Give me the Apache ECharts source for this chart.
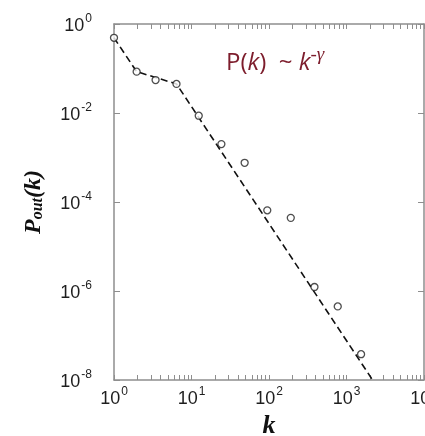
<!DOCTYPE html>
<html>
<head>
<meta charset="utf-8">
<style>
  html, body { margin: 0; padding: 0; background: #fff; }
  #chart { width: 425px; height: 436px; }
</style>
<script src="https://cdn.jsdelivr.net/npm/echarts@6/dist/echarts.min.js"></script>
</head>
<body>
<div id="chart"></div>
<script>
// Out-degree distribution samples (k, P_out(k))
const kValues = [1, 1.96, 3.44, 6.4, 12.4, 24.3, 48.5, 95, 191, 386, 771, 1542];
const pValues = [0.49, 0.085, 0.055, 0.045, 0.0087, 0.002, 0.00076, 0.000065, 0.000044, 0.00000123, 0.00000045, 0.000000038];

// Piecewise power-law guide line
const fitK = [1, 1.96, 6.4, 2170];
const fitP = [0.49, 0.085, 0.045, 0.00000001];

// Axis ticks and labels
const xLabelValues = [1, 10, 100, 1000, 10000];
const xTickValues = [];
for (let d = 1; d <= 1000; d *= 10) {
  for (let m = 1; m <= 9; m++) xTickValues.push(m * d);
}
xTickValues.push(10000);

const pointData = kValues.map((k, i) => [k, pValues[i]]);
const fitData = fitK.map((k, i) => [k, fitP[i]]);

const axisGray = '#8e8e8e';
const labelFont = 'Liberation Sans';

function powLabel(v) {
  const e = Math.round(Math.log10(v));
  return '{b|10}{s|' + (e < 0 ? '-' + (-e) : e) + '}';
}
const powRich = {
  b: { fontSize: 18, fontFamily: labelFont, color: '#1e1e1e', lineHeight: 22, verticalAlign: 'bottom' },
  s: { fontSize: 12, fontFamily: labelFont, color: '#1e1e1e', lineHeight: 22, verticalAlign: 'top', padding: [0, 0, 10, 1] }
};

const chart = echarts.init(document.getElementById('chart'), null, { renderer: 'canvas' });

chart.setOption({
  backgroundColor: '#ffffff',
  animation: false,
  grid: { left: 114, right: 1, top: 24, bottom: 56, outerBoundsMode: 'none', containLabel: false },
  xAxis: [
    {
      type: 'log', logBase: 10, min: 1, max: 10000, position: 'bottom',
      name: 'k', nameLocation: 'middle', nameGap: 30,
      nameTextStyle: { fontFamily: 'Liberation Serif', fontStyle: 'italic', fontWeight: 'bold', fontSize: 26, color: '#111' },
      axisLine: { show: true, lineStyle: { color: axisGray, width: 1.5 } },
      axisTick: { show: true, inside: true, length: 5, customValues: xTickValues, lineStyle: { color: axisGray, width: 1 } },
      axisLabel: { show: true, margin: 6, customValues: xLabelValues, formatter: powLabel, rich: powRich },
      splitLine: { show: false }, minorTick: { show: false }
    },
    {
      type: 'log', logBase: 10, min: 1, max: 10000, position: 'top',
      axisLine: { show: true, lineStyle: { color: axisGray, width: 1.5 } },
      axisTick: { show: true, inside: true, length: 5, customValues: xTickValues, lineStyle: { color: axisGray, width: 1 } },
      axisLabel: { show: false },
      splitLine: { show: false }
    }
  ],
  yAxis: [
    {
      type: 'log', logBase: 100, min: 1e-8, max: 1, position: 'left',
      name: '{p|P}{sub|out}{p|(k)}', nameLocation: 'middle', nameRotate: 90, nameGap: 68,
      nameTextStyle: {
        rich: {
          p: { fontFamily: 'Liberation Serif', fontStyle: 'italic', fontWeight: 'bold', fontSize: 24, color: '#111', lineHeight: 26, verticalAlign: 'bottom' },
          sub: { fontFamily: 'Liberation Serif', fontStyle: 'italic', fontWeight: 'bold', fontSize: 16, color: '#111', lineHeight: 26, verticalAlign: 'bottom', padding: [6, 0, 0, 0] }
        }
      },
      axisLine: { show: true, lineStyle: { color: axisGray, width: 1.5 } },
      axisTick: { show: true, inside: true, length: 6, lineStyle: { color: axisGray, width: 1 } },
      axisLabel: { show: true, margin: 22, formatter: powLabel, rich: powRich },
      splitLine: { show: false }, minorTick: { show: false }
    },
    {
      type: 'log', logBase: 100, min: 1e-8, max: 1, position: 'right',
      axisLine: { show: true, lineStyle: { color: axisGray, width: 1.5 } },
      axisTick: { show: true, inside: true, length: 6, lineStyle: { color: axisGray, width: 1 } },
      axisLabel: { show: false },
      splitLine: { show: false }
    }
  ],
  series: [
    {
      type: 'line', xAxisIndex: 0, yAxisIndex: 0,
      data: fitData, showSymbol: false, symbol: 'none', silent: true,
      lineStyle: { color: '#111', width: 1.6, type: [7, 4] },
      z: 2
    },
    {
      type: 'scatter', xAxisIndex: 0, yAxisIndex: 0,
      data: pointData, symbol: 'circle', symbolSize: 7,
      itemStyle: { color: '#ffffff', borderColor: '#222', borderWidth: 1.3 },
      z: 3
    }
  ],
  graphic: [
    {
      type: 'text', left: 226, top: 45,
      style: {
        text: '{n|P(}{i|k}{n|)  ~ }{i|k}{sup|-γ}',
        rich: {
          n: { fontFamily: 'Open Sans', fontSize: 24, fill: '#7d1d2c', lineHeight: 30, verticalAlign: 'bottom' },
          i: { fontFamily: 'Open Sans', fontStyle: 'italic', fontSize: 24, fill: '#7d1d2c', lineHeight: 30, verticalAlign: 'bottom' },
          sup: { fontFamily: 'Liberation Serif', fontStyle: 'italic', fontSize: 19, fill: '#7d1d2c', lineHeight: 30, verticalAlign: 'top' }
        }
      }
    }
  ]
});
</script>
</body>
</html>
